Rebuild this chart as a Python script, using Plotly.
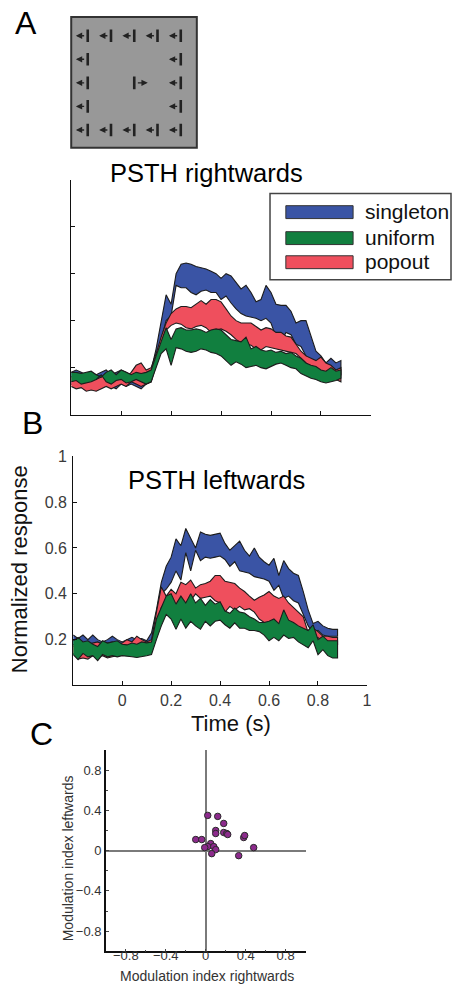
import plotly.graph_objects as go

W, H = 457, 987
FONT = "Liberation Sans, Arial, sans-serif"

# time bins (s)
t = [-0.2, -0.18, -0.16, -0.14, -0.12, -0.1, -0.08, -0.06, -0.04, -0.02,
     0.0, 0.02, 0.04, 0.06, 0.08, 0.1, 0.12, 0.14, 0.16, 0.18,
     0.2, 0.22, 0.24, 0.26, 0.28, 0.3, 0.32, 0.34, 0.36, 0.38,
     0.4, 0.42, 0.44, 0.46, 0.48, 0.5, 0.52, 0.54, 0.56, 0.58,
     0.6, 0.62, 0.64, 0.66, 0.68, 0.7, 0.72, 0.74, 0.76, 0.78,
     0.8, 0.82, 0.84, 0.86, 0.88]

conditions = ["singleton", "uniform", "popout"]
cond_colors = {"singleton": "#3A54A5", "uniform": "#117F3F", "popout": "#EF4F5D"}

# PSTH rightwards : upper / lower edge of each band
r_sing_hi = [0.18, 0.19, 0.18, 0.17, 0.18, 0.17, 0.18, 0.19, 0.17, 0.18, 0.19, 0.18, 0.17, 0.19, 0.20, 0.18, 0.19,
             0.28, 0.40, 0.51, 0.47, 0.60, 0.64, 0.645, 0.64, 0.63, 0.625, 0.62, 0.61, 0.60, 0.58, 0.60, 0.59,
             0.56, 0.535, 0.55, 0.52, 0.48, 0.49, 0.55, 0.52, 0.47, 0.465, 0.465, 0.44, 0.39, 0.40, 0.40,
             0.33, 0.27, 0.25, 0.22, 0.24, 0.22, 0.23]
r_sing_lo = [0.13, 0.12, 0.13, 0.11, 0.12, 0.13, 0.12, 0.13, 0.12, 0.11, 0.13, 0.12, 0.13, 0.12, 0.11, 0.13, 0.14,
             0.22, 0.32, 0.40, 0.42, 0.55, 0.54, 0.54, 0.52, 0.51, 0.525, 0.53, 0.52, 0.52, 0.49, 0.505, 0.475,
             0.45, 0.43, 0.42, 0.415, 0.41, 0.40, 0.41, 0.39, 0.33, 0.31, 0.35, 0.34, 0.30, 0.29, 0.25,
             0.23, 0.22, 0.24, 0.19, 0.17, 0.18, 0.17]
r_pop_hi = [0.16, 0.17, 0.15, 0.16, 0.17, 0.15, 0.16, 0.17, 0.16, 0.15, 0.17, 0.16, 0.18, 0.21, 0.22, 0.19, 0.20,
            0.26, 0.33, 0.39, 0.43, 0.45, 0.46, 0.46, 0.455, 0.47, 0.485, 0.47, 0.49, 0.49, 0.48, 0.45, 0.42,
            0.40, 0.39, 0.39, 0.39, 0.375, 0.36, 0.37, 0.365, 0.35, 0.35, 0.335, 0.33, 0.30, 0.27, 0.25,
            0.24, 0.23, 0.245, 0.22, 0.21, 0.19, 0.20]
r_pop_lo = [0.12, 0.11, 0.115, 0.10, 0.105, 0.10, 0.11, 0.12, 0.11, 0.12, 0.13, 0.12, 0.14, 0.13, 0.12, 0.13, 0.14,
            0.21, 0.28, 0.36, 0.38, 0.39, 0.385, 0.37, 0.365, 0.375, 0.38, 0.37, 0.35, 0.36, 0.365, 0.355, 0.34,
            0.32, 0.305, 0.30, 0.295, 0.28, 0.275, 0.29, 0.285, 0.28, 0.275, 0.27, 0.265, 0.26, 0.24, 0.22,
            0.20, 0.18, 0.17, 0.16, 0.155, 0.15, 0.14]
r_uni_hi = [0.18, 0.18, 0.175, 0.18, 0.185, 0.17, 0.16, 0.18, 0.19, 0.17, 0.19, 0.18, 0.17, 0.18, 0.175, 0.18, 0.19,
            0.25, 0.31, 0.37, 0.32, 0.365, 0.37, 0.36, 0.36, 0.365, 0.36, 0.35, 0.36, 0.365, 0.36, 0.34, 0.32,
            0.315, 0.31, 0.33, 0.28, 0.29, 0.275, 0.27, 0.275, 0.265, 0.27, 0.26, 0.265, 0.25, 0.24, 0.22,
            0.21, 0.205, 0.19, 0.185, 0.20, 0.185, 0.19]
r_uni_lo = [0.14, 0.145, 0.13, 0.135, 0.14, 0.15, 0.17, 0.14, 0.13, 0.145, 0.15, 0.135, 0.14, 0.15, 0.14, 0.13, 0.14,
            0.20, 0.26, 0.28, 0.21, 0.285, 0.28, 0.27, 0.265, 0.27, 0.28, 0.275, 0.265, 0.26, 0.25, 0.23, 0.21,
            0.225, 0.215, 0.20, 0.205, 0.21, 0.20, 0.195, 0.205, 0.215, 0.22, 0.21, 0.20, 0.195, 0.175, 0.165,
            0.155, 0.15, 0.14, 0.135, 0.14, 0.145, 0.155]

# PSTH leftwards
l_sing_hi = [0.22, 0.205, 0.22, 0.20, 0.22, 0.20, 0.19, 0.20, 0.215, 0.20, 0.19, 0.20, 0.21, 0.20, 0.205, 0.195, 0.23,
             0.33, 0.45, 0.52, 0.56, 0.64, 0.61, 0.685, 0.64, 0.60, 0.67, 0.66, 0.655, 0.66, 0.665, 0.62, 0.59,
             0.61, 0.63, 0.59, 0.565, 0.60, 0.56, 0.54, 0.525, 0.555, 0.48, 0.545, 0.51, 0.49, 0.48, 0.41,
             0.33, 0.27, 0.28, 0.26, 0.25, 0.245, 0.245]
l_sing_lo = [0.17, 0.17, 0.165, 0.17, 0.175, 0.18, 0.17, 0.175, 0.18, 0.175, 0.17, 0.175, 0.18, 0.17, 0.175, 0.18, 0.185,
             0.29, 0.40, 0.42, 0.45, 0.50, 0.46, 0.58, 0.50, 0.59, 0.545, 0.56, 0.555, 0.56, 0.565, 0.55, 0.52,
             0.54, 0.50, 0.495, 0.49, 0.475, 0.47, 0.465, 0.455, 0.415, 0.437, 0.38, 0.39, 0.37, 0.36, 0.31,
             0.26, 0.23, 0.24, 0.22, 0.215, 0.215, 0.215]
l_pop_hi = [0.18, 0.17, 0.175, 0.18, 0.185, 0.19, 0.18, 0.185, 0.19, 0.18, 0.185, 0.20, 0.19, 0.215, 0.20, 0.19, 0.20,
            0.32, 0.43, 0.39, 0.42, 0.40, 0.45, 0.44, 0.46, 0.425, 0.44, 0.445, 0.455, 0.48, 0.48, 0.455, 0.45,
            0.445, 0.425, 0.41, 0.39, 0.372, 0.385, 0.395, 0.41, 0.39, 0.38, 0.39, 0.36, 0.34, 0.32, 0.30,
            0.23, 0.25, 0.235, 0.215, 0.215, 0.21, 0.21]
l_pop_lo = [0.14, 0.115, 0.12, 0.115, 0.13, 0.125, 0.13, 0.12, 0.125, 0.13, 0.14, 0.135, 0.14, 0.13, 0.135, 0.14, 0.15,
            0.26, 0.34, 0.37, 0.37, 0.34, 0.37, 0.35, 0.37, 0.40, 0.38, 0.385, 0.39, 0.37, 0.36, 0.32, 0.345,
            0.33, 0.345, 0.33, 0.335, 0.32, 0.29, 0.275, 0.275, 0.27, 0.245, 0.30, 0.27, 0.255, 0.24, 0.22,
            0.20, 0.20, 0.21, 0.185, 0.18, 0.185, 0.18]
l_uni_hi = [0.195, 0.21, 0.19, 0.195, 0.18, 0.17, 0.195, 0.185, 0.19, 0.195, 0.18, 0.177, 0.185, 0.18, 0.19, 0.186, 0.19,
            0.29, 0.34, 0.39, 0.40, 0.355, 0.39, 0.36, 0.40, 0.36, 0.38, 0.35, 0.375, 0.355, 0.365, 0.325, 0.315,
            0.338, 0.32, 0.316, 0.30, 0.29, 0.275, 0.275, 0.28, 0.29, 0.27, 0.33, 0.285, 0.275, 0.26, 0.25,
            0.24, 0.265, 0.20, 0.215, 0.195, 0.195, 0.195]
l_uni_lo = [0.135, 0.113, 0.14, 0.125, 0.13, 0.108, 0.135, 0.125, 0.13, 0.125, 0.13, 0.128, 0.125, 0.122, 0.125, 0.13, 0.135,
            0.20, 0.26, 0.31, 0.29, 0.245, 0.29, 0.25, 0.28, 0.26, 0.245, 0.28, 0.26, 0.28, 0.285, 0.265, 0.25,
            0.273, 0.25, 0.25, 0.24, 0.24, 0.235, 0.22, 0.195, 0.21, 0.195, 0.22, 0.205, 0.21, 0.19, 0.177,
            0.165, 0.195, 0.134, 0.156, 0.13, 0.12, 0.12]

# modulation indices, one point per neuron
mi_right = [0.02, 0.12, 0.18, 0.10, 0.10, 0.18, 0.21, 0.22, -0.10, -0.04, 0.05, 0.02, -0.01, 0.08, 0.10, 0.06, 0.38, 0.39, 0.48, 0.33]
mi_left = [0.35, 0.34, 0.27, 0.20, 0.17, 0.18, 0.17, 0.16, 0.11, 0.11, 0.07, 0.04, 0.03, 0.04, 0.01, -0.03, 0.13, 0.15, 0.03, -0.05]

# stimulus display (panel A): grid column, row, arrow direction
stim_col = [1, 2, 3, 4, 5, 1, 5, 1, 3, 5, 1, 5, 1, 2, 3, 4, 5]
stim_row = [1, 1, 1, 1, 1, 2, 2, 3, 3, 3, 4, 4, 5, 5, 5, 5, 5]
stim_dir = [-1, -1, -1, -1, -1, -1, -1, -1, 1, -1, -1, -1, -1, -1, -1, -1, -1]


def px(x):
    return x / W


def py(y):
    return 1 - y / H


fig = go.Figure()

# bands: singleton first, then popout, uniform on top
panels = [
    ("x", "y", {"singleton": (r_sing_hi, r_sing_lo), "popout": (r_pop_hi, r_pop_lo), "uniform": (r_uni_hi, r_uni_lo)}),
    ("x2", "y2", {"singleton": (l_sing_hi, l_sing_lo), "popout": (l_pop_hi, l_pop_lo), "uniform": (l_uni_hi, l_uni_lo)}),
]
for xa, ya, bands in panels:
    for name in ["singleton", "popout", "uniform"]:
        hi, lo = bands[name]
        fig.add_trace(go.Scatter(
            x=t + t[::-1], y=hi + lo[::-1], mode="lines", fill="toself",
            fillcolor=cond_colors[name], line=dict(color="#1c1c1c", width=1.1),
            xaxis=xa, yaxis=ya, showlegend=False, hoverinfo="skip"))

# panel C scatter
fig.add_trace(go.Scatter(
    x=mi_right, y=mi_left, mode="markers",
    marker=dict(size=6.5, color="#8C2A8C", line=dict(color="#2a2a2a", width=1)),
    xaxis="x3", yaxis="y3", showlegend=False))

# panel A stimulus bars
bar_off = 0.21
fig.add_trace(go.Scatter(
    x=[c + bar_off for c in stim_col], y=stim_row, mode="markers",
    marker=dict(symbol="line-ns", size=9, line=dict(color="#222222", width=2.6)),
    xaxis="x4", yaxis="y4", showlegend=False, hoverinfo="skip"))

annotations = []
for c, r, d in zip(stim_col, stim_row, stim_dir):
    bx = c + bar_off
    if d < 0:
        tail, tip = bx - 0.09, c - 0.30
    else:
        tail, tip = bx + 0.09, bx + 0.58
    annotations.append(dict(
        x=tip, y=r, ax=tail, ay=r, xref="x4", yref="y4", axref="x4", ayref="y4",
        text="", showarrow=True, arrowhead=2, arrowsize=0.9, arrowwidth=1.4, arrowcolor="#222222"))

shapes = [
    dict(type="rect", xref="x4 domain", yref="y4 domain", x0=0, x1=1, y0=0, y1=1,
         fillcolor="#989898", line=dict(color="#333333", width=2), layer="below"),
]

# legend drawn as boxes
shapes.append(dict(type="rect", xref="paper", yref="paper", x0=px(273), x1=px(456), y0=py(274), y1=py(187),
                   fillcolor="white", line=dict(color="#444444", width=1.5)))
leg_y = [205.8, 232, 256.3]
for name, yy in zip(conditions, leg_y):
    shapes.append(dict(type="rect", xref="paper", yref="paper", x0=px(289), x1=px(357),
                       y0=py(yy + 6.5), y1=py(yy - 6.5),
                       fillcolor=cond_colors[name], line=dict(color="#333333", width=1)))
    annotations.append(dict(x=px(367), y=py(yy - 1), xref="paper", yref="paper", text=name,
                            showarrow=False, xanchor="left", yanchor="middle",
                            font=dict(family=FONT, size=21, color="#111111")))

# panel letters, titles, axis labels
def label(txt, x, y, size, color="#000000", angle=0):
    annotations.append(dict(x=px(x), y=py(y), xref="paper", yref="paper", text=txt, showarrow=False,
                            xanchor="center", yanchor="middle", textangle=angle,
                            font=dict(family=FONT, size=size, color=color)))


label("A", 26, 15, 32)
label("B", 33, 418, 32)
label("C", 42, 732, 32)
label("PSTH rightwards", 209, 166, 25.5)
label("PSTH leftwards", 219, 476, 25.5)
label("Normalized response", 20, 566, 22, "#111111", -90)
label("Time (s)", 234, 721, 22, "#111111")
label("Modulation index leftwards", 69, 857, 14, "#333333", -90)
label("Modulation index rightwards", 209, 976, 14, "#333333")

psth_ticks = [0, 0.2, 0.4, 0.6, 0.8, 1.0]
tick_font = dict(family=FONT, size=16, color="#3a3a3a")
common = dict(showline=True, linecolor="#111111", linewidth=1.2, ticks="inside", ticklen=4,
              tickcolor="#111111", showgrid=False, zeroline=False, fixedrange=True)
c_axis = dict(range=[-1, 1], tickvals=[-0.8, -0.4, 0, 0.4, 0.8],
              ticktext=["\u22120.8", "\u22120.4", "0", "0.4", "0.8"],
              tickfont=dict(family=FONT, size=13, color="#333333"),
              showline=True, linecolor="#111111", linewidth=1.5, ticks="inside", ticklen=3,
              minor=dict(ticks="inside", dtick=0.2, tick0=0, ticklen=2, tickcolor="#444444"),
              showgrid=False, zeroline=True, zerolinecolor="#7a7a7a", zerolinewidth=1.5, fixedrange=True)

fig.update_layout(
    width=W, height=H, margin=dict(l=0, r=0, t=0, b=0),
    paper_bgcolor="white", plot_bgcolor="rgba(0,0,0,0)",
    showlegend=False,
    xaxis=dict(domain=[px(72), px(375)], range=[-0.2, 1.0], anchor="y", tickvals=psth_ticks,
               showticklabels=False, **common),
    yaxis=dict(domain=[py(410), py(173)], range=[0, 1], anchor="x", tickvals=psth_ticks,
               showticklabels=False, **common),
    xaxis2=dict(domain=[px(74), px(371)], range=[-0.2, 1.0], anchor="y2", tickvals=psth_ticks,
                ticktext=["0", "0.2", "0.4", "0.6", "0.8", "1"], tickfont=tick_font, **common),
    yaxis2=dict(domain=[py(683), py(452)], range=[0, 1], anchor="x2", tickvals=[0.2, 0.4, 0.6, 0.8, 1.0],
                ticktext=["0.2", "0.4", "0.6", "0.8", "1"], tickfont=tick_font, ticklabelstandoff=2, **common),
    xaxis3=dict(domain=[px(107), px(309)], anchor="y3", ticklabelstandoff=-9, **c_axis),
    yaxis3=dict(domain=[py(951), py(748)], anchor="x3", ticklabelstandoff=0, **c_axis),
    xaxis4=dict(domain=[px(72), px(199)], range=[0.5, 5.9], anchor="y4", visible=False, fixedrange=True),
    yaxis4=dict(domain=[py(141), py(9)], range=[5.76, 0.2], anchor="x4", visible=False, fixedrange=True),
    shapes=shapes,
    annotations=annotations,
)

# pin the plot div to the window's top-left corner (no default body margin)
pin = ("document.body.style.margin='0';"
       "var d=document.getElementById('{plot_id}');"
       "d.style.position='absolute';d.style.left='0px';d.style.top='0px';")
fig.write_html("out.html", config={"displayModeBar": False}, post_script=pin)
